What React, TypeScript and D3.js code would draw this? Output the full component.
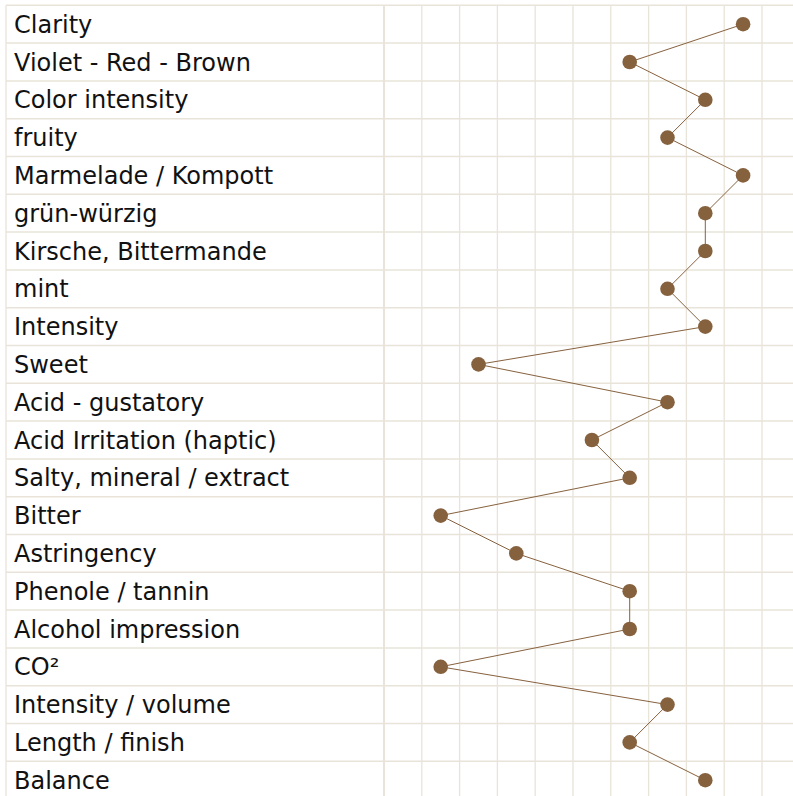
import { useEffect, useRef } from "react";
import * as d3 from "d3";

// tasting attributes, top to bottom
const attributes = [
  "Clarity",
  "Violet - Red - Brown",
  "Color intensity",
  "fruity",
  "Marmelade / Kompott",
  "grün-würzig",
  "Kirsche, Bittermande",
  "mint",
  "Intensity",
  "Sweet",
  "Acid - gustatory",
  "Acid Irritation (haptic)",
  "Salty, mineral / extract",
  "Bitter",
  "Astringency",
  "Phenole / tannin",
  "Alcohol impression",
  "CO²",
  "Intensity / volume",
  "Length / finish",
  "Balance",
];

// score per attribute (column index on the grid)
const scores = [9, 6, 8, 7, 9, 8, 8, 7, 8, 2, 7, 5, 6, 1, 3, 6, 6, 1, 7, 6, 8];

// grid columns
const columns = d3.range(11);

export default function App() {
  const svgRef = useRef<SVGSVGElement>(null);

  useEffect(() => {
    if (!svgRef.current) return;
    const svg = d3.select(svgRef.current);
    svg.selectAll("*").remove();

    const width = 793;
    const height = 796;
    const left = 6;
    const plotLeft = 384;
    const top = 5.3;
    const rowH = 37.8;
    const gridColor = "#e9e4d9";
    const brown = "#86613e";

    const y = d3
      .scaleBand<string>()
      .domain(attributes)
      .range([top, top + attributes.length * rowH]);

    const x = d3
      .scaleBand<number>()
      .domain(columns)
      .range([plotLeft, plotLeft + columns.length * rowH]);

    svg.append("rect").attr("width", width).attr("height", height).attr("fill", "#fff");

    // horizontal row lines
    svg
      .append("g")
      .selectAll("line")
      .data(d3.range(attributes.length + 1))
      .enter()
      .append("line")
      .attr("x1", left)
      .attr("x2", width + 10)
      .attr("y1", (i) => top + i * y.bandwidth())
      .attr("y2", (i) => top + i * y.bandwidth())
      .attr("stroke", gridColor)
      .attr("stroke-width", 1.5);

    // vertical column lines
    svg
      .append("g")
      .selectAll("line")
      .data(columns.concat([columns.length]))
      .enter()
      .append("line")
      .attr("x1", (c) => plotLeft + c * x.bandwidth())
      .attr("x2", (c) => plotLeft + c * x.bandwidth())
      .attr("y1", top)
      .attr("y2", height + 10)
      .attr("stroke", gridColor)
      .attr("stroke-width", (c) => (c === 0 ? 2 : 1.3));

    // left border of label column
    svg
      .append("line")
      .attr("x1", left)
      .attr("x2", left)
      .attr("y1", top)
      .attr("y2", height + 10)
      .attr("stroke", gridColor)
      .attr("stroke-width", 1.3);

    // labels
    svg
      .append("g")
      .selectAll("text")
      .data(attributes)
      .enter()
      .append("text")
      .attr("x", 14)
      .attr("y", (d) => (y(d) as number) + y.bandwidth() / 2 + 8.5)
      .attr("font-family", "DejaVu Sans")
      .attr("font-size", "24px")
      .attr("fill", "#111")
      .text((d) => d);

    const px = (i: number) => (x(scores[i]) as number) + x.bandwidth() / 2;
    const py = (i: number) => (y(attributes[i]) as number) + y.bandwidth() / 2;

    const line = d3
      .line<number>()
      .x((i) => px(i))
      .y((i) => py(i));

    svg
      .append("path")
      .datum(d3.range(scores.length))
      .attr("fill", "none")
      .attr("stroke", brown)
      .attr("stroke-width", 1)
      .attr("d", line);

    svg
      .append("g")
      .selectAll("circle")
      .data(d3.range(scores.length))
      .enter()
      .append("circle")
      .attr("cx", (i) => px(i))
      .attr("cy", (i) => py(i))
      .attr("r", 7.3)
      .attr("fill", brown);
  }, []);

  return (
    <svg
      ref={svgRef}
      width={793}
      height={796}
      style={{ position: "absolute", left: 0, top: 0, display: "block" }}
    />
  );
}
